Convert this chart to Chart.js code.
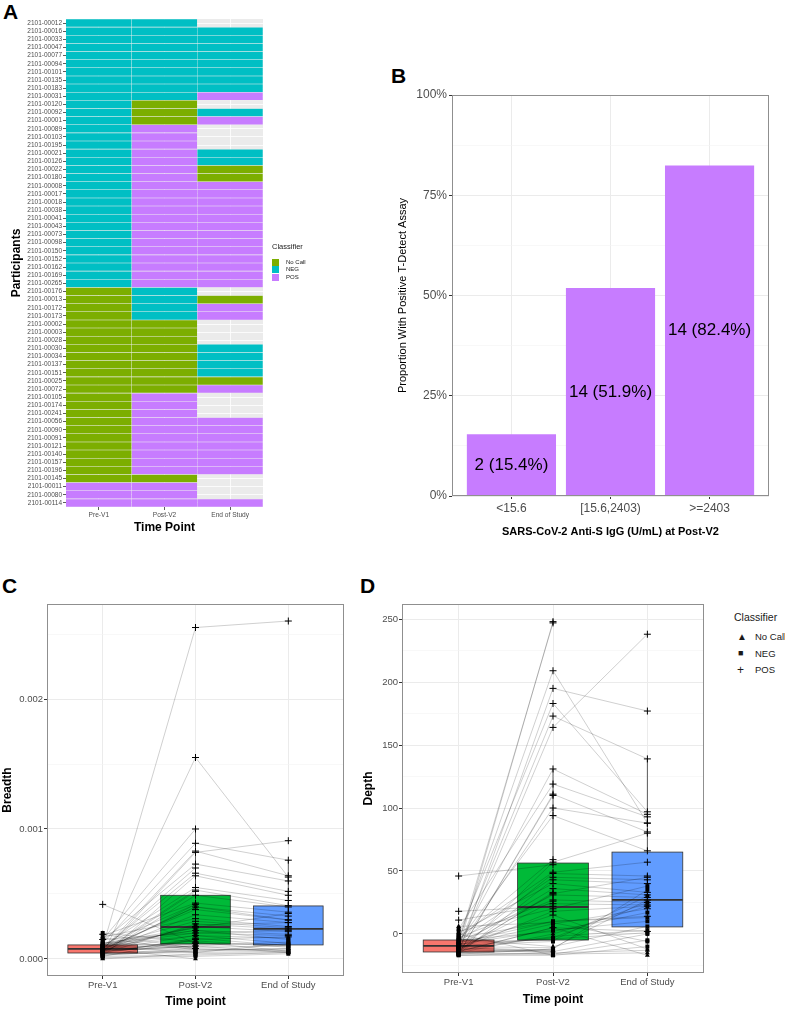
<!DOCTYPE html>
<html>
<head>
<meta charset="utf-8">
<script src="https://cdn.jsdelivr.net/npm/chart.js@4.4.1/dist/chart.umd.min.js"></script>
<style>
  body { margin:0; background:#fff; width:785px; height:1010px; position:relative; overflow:hidden; font-family:"Liberation Sans", Arial, sans-serif; }
  canvas { position:absolute; }
  .tag { position:absolute; font-weight:bold; font-size:21px; line-height:21px; }
  .leg { position:absolute; color:#1a1a1a; white-space:nowrap; }
  .key { position:absolute; width:7px; height:7px; }
</style>
</head>
<body>
<div class="tag" style="left:3px;top:1px">A</div>
<div class="tag" style="left:391px;top:65px">B</div>
<div class="tag" style="left:2px;top:575px">C</div>
<div class="tag" style="left:360px;top:575px">D</div>

<canvas id="chartA" width="370" height="540" style="left:0;top:0"></canvas>
<canvas id="chartB" width="400" height="465" style="left:385px;top:80px"></canvas>
<canvas id="chartC" width="350" height="420" style="left:0;top:590px"></canvas>
<canvas id="chartD" width="365" height="420" style="left:355px;top:590px"></canvas>

<!-- legend panel A -->
<div class="leg" style="left:272px;top:242px;font-size:7.5px">Classifier</div>
<div class="key" style="left:272px;top:259px;background:#7CAE00"></div>
<div class="leg" style="left:286px;top:259px;font-size:6px;line-height:7px">No Call</div>
<div class="key" style="left:272px;top:266px;background:#00BFC4"></div>
<div class="leg" style="left:286px;top:266px;font-size:6px;line-height:7px">NEG</div>
<div class="key" style="left:272px;top:274px;background:#C77CFF"></div>
<div class="leg" style="left:286px;top:274px;font-size:6px;line-height:7px">POS</div>

<!-- legend panel D -->
<div class="leg" style="left:734px;top:611px;font-size:10.5px">Classifier</div>
<div class="leg" style="left:737px;top:630px;font-size:10px;line-height:13px">&#9650;</div>
<div class="leg" style="left:755px;top:631px;font-size:9.5px;line-height:12px">No Call</div>
<div class="leg" style="left:738px;top:647px;font-size:9px;line-height:13px">&#9632;</div>
<div class="leg" style="left:755px;top:648px;font-size:9.5px;line-height:12px">NEG</div>
<div class="leg" style="left:737px;top:663px;font-size:12px;line-height:14px">+</div>
<div class="leg" style="left:755px;top:664px;font-size:9.5px;line-height:12px">POS</div>

<script>
const participants = ['2101-00012','2101-00016','2101-00033','2101-00047','2101-00077','2101-00094','2101-00101','2101-00135','2101-00183','2101-00031',
  '2101-00120','2101-00092','2101-00001','2101-00089','2101-00103','2101-00195','2101-00021','2101-00126','2101-00022','2101-00180',
  '2101-00008','2101-00017','2101-00018','2101-00038','2101-00041','2101-00043','2101-00073','2101-00098','2101-00150','2101-00152',
  '2101-00162','2101-00169','2101-00265','2101-00176','2101-00013','2101-00172','2101-00173','2101-00002','2101-00003','2101-00028',
  '2101-00030','2101-00034','2101-00137','2101-00151','2101-00025','2101-00072','2101-00105','2101-00174','2101-00241','2101-00056',
  '2101-00090','2101-00091','2101-00121','2101-00140','2101-00157','2101-00196','2101-00145','2101-00011','2101-00080','2101-00114'];
const timePoints = ['Pre-V1', 'Post-V2', 'End of Study'];

const N = 'NEG', C = 'No Call', P = 'POS', _ = null;
const classPre = [N,N,N,N,N,N,N,N,N,N, N,N,N,N,N,N,N,N,N,N, N,N,N,N,N,N,N,N,N,N, N,N,N,C,C,C,C,C,C,C, C,C,C,C,C,C,C,C,C,C, C,C,C,C,C,C,C,P,P,P];
const classPost = [N,N,N,N,N,N,N,N,N,N, C,C,C,P,P,P,P,P,P,P, P,P,P,P,P,P,P,P,P,P, P,P,P,N,N,N,N,C,C,C, C,C,C,C,C,C,P,P,P,P, P,P,P,P,P,P,C,P,P,P];
const classEnd = [_,N,N,N,N,N,N,N,N,P, _,N,P,_,_,_,N,N,C,C, P,P,P,P,P,P,P,P,P,P, P,P,P,_,C,P,P,_,_,_, N,N,N,N,C,P,_,_,_,P, P,P,P,P,P,P,_,_,_,P];

// panel B
const bCats = ['<15.6', '[15.6,2403)', '>=2403'];
const bPct = [15.4, 51.9, 82.4];
const bCount = [2, 14, 14];

// panel C - breadth
const breadthPre = [0.00007,0.00004,0.0001,0.00002,0.00008,0.00012,0.00005,0.00009,0.00001,0.00006,
  0.00011,0.00003,0.00007,0.00015,0.00008,0.00005,0.0001,0.00004,0.0002,0.00006,
  0.00009,0.00003,0.00012,0.00007,0.00005,0.00014,0.00008,0.00002,0.0001,0.00006,
  0.00004,0.00018,0.00007,0.00009,0,0.00011,0.00005,0.00008,0.00003,0.00013,
  0.00006,0.0001,0.00004,0.00007,0.00016,0.00009,0.00005,0.00012,0.00002,0.00008,
  0.00006,0.00017,0.0001,0.00004,0.00007,0.00011,0.00006,0.00042,0.00019,0.00015];
const breadthPost = [0.00008,0.00005,0.00012,0.00003,0.00009,0.00022,0.00006,0.0001,0.00002,0.00026,
  0.00042,0.00007,0.0004,0.001,0.0007,0.00052,0.00018,0.00016,0.00013,0.0001,
  0.00255,0.00155,0.00089,0.00083,0.00082,0.00073,0.00066,0.00064,0.00055,0.00053,
  0.00049,0.00043,0.0004,0.00011,0.00004,0.0002,0.00015,0,0.00006,0.00009,
  0.00014,0.00005,0.00008,0.00018,0.00007,0.00024,0.00042,0.00024,0.00015,0.00038,
  0.00034,0.00031,0.00029,0.00027,0.00025,0.00022,0.0001,0.00012,0.00008,0.0002];
const breadthEnd = [null,0.00006,0.00011,0.00005,0.0001,0.00015,0.00008,0.00013,0.00004,0.00028,
  null,0.00007,0.0003,null,null,null,0.00012,0.0001,0.00006,0.00005,
  0.0026,0.00063,0.00076,0.00064,0.00091,0.0006,0.00052,0.00049,0.00045,0.00041,
  0.0004,0.00036,0.00033,null,0.00005,0.00022,0.00017,null,null,null,
  0.00009,0.00012,0.00006,0.00016,0.00008,0.00035,null,null,null,0.0003,
  0.00028,0.00025,0.00024,0.00023,0.00021,0.00019,null,null,null,0.00018];
const breadthQ1 = [0.000046, 0.000115, 0.000108];
const breadthMed = [0.000077, 0.000246, 0.000231];
const breadthQ3 = [0.000108, 0.00049, 0.000408];
const breadthLo = [0, 0, 0.00004];
const breadthHi = [0.0002, 0.001, 0.00076];

// panel D - depth
const depthPre = [-12,-15,-8,-16,-10,-3,-14,-6,-17,-9,
  -13,-4,-15,-11,-7,-16,2,-12,-9,-14,
  -5,-15,-1,-10,-13,-8,4,-16,-11,-6,
  -15,-2,-12,-9,-17,-7,-14,0,-11,-16,
  -5,-13,-8,6,-15,-10,-4,-14,-12,-6,
  -16,1,-9,-13,-7,-3,-11,46,18,11];
const depthPost = [-15,-12,3,-16,-3,10,-14,-5,-17,8,
  -13,-10,0,248,247,110,20,18,15,5,
  209,195,183,173,164,131,119,111,100,94,
  57,49,48,-6,-15,10,5,-17,-14,-12,
  2,-2,-4,9,-16,-11,59,33,26,45,
  43,40,36,32,31,27,-13,55,22,24];
const depthEnd = [null,35,10,-5,25,13,0,30,-10,20,
  null,6,22,null,null,null,38,22,-12,-17,
  88,177,97,139,238,95,93,81,88,66,
  80,57,46,null,-13,14,2,null,null,null,
  17,3,1,-6,-15,27,null,null,null,43,
  40,33,31,45,29,25,null,null,null,23];
const depthQ1 = [-14.3, -4.8, 5.6];
const depthMed = [-9.5, 21.4, 27];
const depthQ3 = [-4.8, 56.3, 65];
const depthLo = [-17, -17, -17];
const depthHi = [6, 131, 139];

const classColors = { 'No Call': '#7CAE00', 'NEG': '#00BFC4', 'POS': '#C77CFF' };
const boxColors = ['#F8766D', '#00BA38', '#619CFF'];
const shapes = { 'No Call': 'triangle', 'NEG': 'rect', 'POS': 'cross' };

Chart.defaults.font.family = '"Liberation Sans", Arial, sans-serif';
Chart.defaults.color = '#4D4D4D';

const panelBg = {
  id: 'panelBg',
  beforeDraw(chart) {
    const a = chart.chartArea;
    chart.ctx.save();
    chart.ctx.fillStyle = '#EBEBEB';
    chart.ctx.fillRect(a.left, a.top, a.width, a.height);
    chart.ctx.restore();
  }
};

const frame = {
  id: 'frame',
  afterDatasetsDraw(chart) {
    const { ctx, chartArea: a } = chart;
    ctx.save();
    ctx.strokeStyle = '#8F8F8F';
    ctx.lineWidth = 1;
    ctx.strokeRect(a.left + 0.5, a.top + 0.5, a.width - 1, a.height - 1);
    ctx.restore();
  }
};

function boxes(q1, med, q3, lo, hi) {
  return {
    id: 'boxes',
    beforeDatasetsDraw(chart) {
      const { ctx, scales: { x, y } } = chart;
      ctx.save();
      q1.forEach((v, i) => {
        const xc = x.getPixelForValue(i);
        const xl = x.getPixelForValue(i - 0.375), xr = x.getPixelForValue(i + 0.375);
        const yt = y.getPixelForValue(q3[i]), yb = y.getPixelForValue(v);
        ctx.strokeStyle = '#333';
        ctx.lineWidth = 0.8;
        ctx.beginPath();
        ctx.moveTo(xc, y.getPixelForValue(hi[i])); ctx.lineTo(xc, yt);
        ctx.moveTo(xc, yb); ctx.lineTo(xc, y.getPixelForValue(lo[i]));
        ctx.stroke();
        ctx.fillStyle = boxColors[i];
        ctx.fillRect(xl, yt, xr - xl, yb - yt);
        ctx.strokeRect(xl, yt, xr - xl, yb - yt);
        ctx.lineWidth = 1.8;
        const ym = y.getPixelForValue(med[i]);
        ctx.beginPath(); ctx.moveTo(xl, ym); ctx.lineTo(xr, ym); ctx.stroke();
      });
      ctx.restore();
    }
  };
}

// panel A: heatmap
new Chart(document.getElementById('chartA'), {
  type: 'bar',
  data: {
    labels: participants,
    datasets: [classPre, classPost, classEnd].map((cls, k) => ({
      label: timePoints[k],
      data: cls.map(c => c ? 1 : null),
      backgroundColor: cls.map(c => c ? classColors[c] : 'rgba(0,0,0,0)'),
      borderColor: 'rgba(255,255,255,0.2)',
      borderWidth: 0.6,
      barPercentage: 1,
      categoryPercentage: 1
    }))
  },
  options: {
    indexAxis: 'y', responsive: false, animation: false, events: [],
    layout: { padding: { top: 19, right: 107, left: 0, bottom: 0 } },
    plugins: { legend: { display: false }, tooltip: { enabled: false } },
    scales: {
      x: {
        type: 'linear', stacked: true, min: 0, max: 3,
        afterBuildTicks: s => { s.ticks = [0.5, 1.5, 2.5].map(v => ({ value: v })); },
        ticks: { callback: (v, i) => timePoints[i], font: { size: 6.6 }, padding: 1, maxRotation: 0 },
        grid: { color: '#fff', lineWidth: 0.8, tickColor: '#333', tickLength: 3 },
        border: { display: false },
        title: { display: true, text: 'Time Point', color: '#000', font: { size: 12, weight: 'bold' }, padding: { top: 2, bottom: 5 } },
        afterFit: s => { s.height = 33; }
      },
      y: {
        stacked: true,
        ticks: { autoSkip: false, font: { size: 6.5 }, padding: 1 },
        grid: { offset: false, color: '#fff', lineWidth: 0.8, tickColor: '#333', tickLength: 3 },
        border: { display: false },
        title: { display: true, text: 'Participants', color: '#000', font: { size: 12, weight: 'bold' }, padding: { top: 9 } },
        afterFit: s => { s.width = 66; }
      }
    }
  },
  plugins: [panelBg]
});

// panel B
const barLabels = {
  id: 'barLabels',
  afterDatasetsDraw(chart) {
    const { ctx, scales: { y } } = chart;
    ctx.save();
    ctx.font = '17px "Liberation Sans", Arial, sans-serif';
    ctx.fillStyle = '#000';
    ctx.textAlign = 'center';
    ctx.textBaseline = 'middle';
    chart.getDatasetMeta(0).data.forEach((bar, i) => {
      ctx.fillText(bCount[i] + ' (' + bPct[i] + '%)', bar.x, y.getPixelForValue(bPct[i] / 2));
    });
    ctx.restore();
  }
};

const major25 = v => v % 25 === 0;
new Chart(document.getElementById('chartB'), {
  type: 'bar',
  data: {
    datasets: [{
      data: bPct.map((v, i) => ({ x: i, y: v })),
      backgroundColor: '#C77CFF',
      barPercentage: 0.9,
      categoryPercentage: 1
    }]
  },
  options: {
    responsive: false, animation: false, events: [],
    layout: { padding: { top: 15, right: 16, left: 0, bottom: 0 } },
    plugins: { legend: { display: false }, tooltip: { enabled: false } },
    scales: {
      x: {
        type: 'linear', min: -0.6, max: 2.6, offset: false,
        afterBuildTicks: s => { s.ticks = [0, 1, 2].map(v => ({ value: v })); },
        ticks: { callback: (v, i) => bCats[i], font: { size: 12 }, padding: 2, maxRotation: 0 },
        grid: { offset: false, color: '#EBEBEB', tickColor: '#333', tickLength: 3 },
        border: { display: false },
        title: { display: true, text: 'SARS-CoV-2 Anti-S IgG (U/mL) at Post-V2', color: '#000', font: { size: 11, weight: 'bold' }, padding: { bottom: 6 } },
        afterFit: s => { s.height = 49; }
      },
      y: {
        min: 0, max: 100,
        afterBuildTicks: s => { s.ticks = [0, 12.5, 25, 37.5, 50, 62.5, 75, 87.5, 100].map(v => ({ value: v })); },
        ticks: { callback: v => major25(v) ? v + '%' : '', font: { size: 12 }, padding: 2 },
        grid: {
          color: c => major25(c.tick.value) ? '#EBEBEB' : '#F4F4F4',
          lineWidth: c => major25(c.tick.value) ? 1 : 0.6,
          tickColor: c => major25(c.tick.value) ? '#333' : 'rgba(0,0,0,0)',
          tickLength: 3
        },
        border: { display: false },
        title: { display: true, text: 'Proportion With Positive T-Detect Assay', color: '#000', font: { size: 11 }, padding: { top: 11 } },
        afterFit: s => { s.width = 67; }
      }
    }
  },
  plugins: [barLabels, frame]
});

// panels C and D
function buildSeries(pre, post, end) {
  const pts = ['No Call', 'NEG', 'POS'].map(cls => {
    const d = [];
    [[pre, classPre], [post, classPost], [end, classEnd]].forEach(([vals, cl], k) => {
      vals.forEach((v, i) => { if (v !== null && cl[i] === cls) d.push({ x: k, y: v }); });
    });
    return {
      data: d, pointStyle: shapes[cls],
      pointRadius: cls === 'POS' ? 3.5 : 2.8,
      backgroundColor: '#000', borderColor: '#000',
      borderWidth: cls === 'POS' ? 1 : 0, order: 0
    };
  });
  const lines = participants.map((p, i) => ({
    label: p, showLine: true,
    data: [pre[i], post[i], end[i]].map((v, k) => v === null ? null : { x: k, y: v }).filter(Boolean),
    borderColor: 'rgba(0,0,0,0.24)', borderWidth: 0.8, pointRadius: 0, order: 2
  }));
  return pts.concat(lines);
}

function timeAxis(h) {
  return {
    type: 'linear', min: -0.6, max: 2.6,
    afterBuildTicks: s => { s.ticks = [0, 1, 2].map(v => ({ value: v })); },
    ticks: { callback: (v, i) => timePoints[i], font: { size: 9.5 }, padding: 1, maxRotation: 0 },
    grid: { color: '#EBEBEB', tickColor: '#333', tickLength: 3 },
    border: { display: false },
    title: { display: true, text: 'Time point', color: '#000', font: { size: 12, weight: 'bold' }, padding: { bottom: h === 34 ? 1 : 3 } },
    afterFit: s => { s.height = h; }
  };
}

const breadthMajor = v => Math.round(v * 10000) % 10 === 0;
new Chart(document.getElementById('chartC'), {
  type: 'scatter',
  data: { datasets: buildSeries(breadthPre, breadthPost, breadthEnd) },
  options: {
    responsive: false, animation: false, events: [],
    layout: { padding: { top: 14, right: 6, left: 0, bottom: 0 } },
    plugins: { legend: { display: false }, tooltip: { enabled: false } },
    scales: {
      x: timeAxis(34),
      y: {
        min: -0.000131, max: 0.002731,
        afterBuildTicks: s => { s.ticks = [0, 0.0005, 0.001, 0.0015, 0.002, 0.0025].map(v => ({ value: v })); },
        ticks: { callback: v => breadthMajor(v) ? v.toFixed(3) : '', font: { size: 9.5 }, padding: 1 },
        grid: {
          color: c => breadthMajor(c.tick.value) ? '#EBEBEB' : '#F4F4F4',
          lineWidth: c => breadthMajor(c.tick.value) ? 1 : 0.6,
          tickColor: c => breadthMajor(c.tick.value) ? '#333' : 'rgba(0,0,0,0)',
          tickLength: 3
        },
        border: { display: false },
        title: { display: true, text: 'Breadth', color: '#000', font: { size: 12, weight: 'bold' }, padding: { top: 0 } },
        afterFit: s => { s.width = 47; }
      }
    }
  },
  plugins: [boxes(breadthQ1, breadthMed, breadthQ3, breadthLo, breadthHi), frame]
});

const depthMajor = v => v % 50 === 0;
new Chart(document.getElementById('chartD'), {
  type: 'scatter',
  data: { datasets: buildSeries(depthPre, depthPost, depthEnd) },
  options: {
    responsive: false, animation: false, events: [],
    layout: { padding: { top: 14, right: 16, left: 0, bottom: 0 } },
    plugins: { legend: { display: false }, tooltip: { enabled: false } },
    scales: {
      x: timeAxis(37),
      y: {
        min: -31, max: 262,
        afterBuildTicks: s => { s.ticks = [-25, 0, 25, 50, 75, 100, 125, 150, 175, 200, 225, 250].map(v => ({ value: v })); },
        ticks: { callback: v => depthMajor(v) ? String(v) : '', font: { size: 9.5 }, padding: 1 },
        grid: {
          color: c => depthMajor(c.tick.value) ? '#EBEBEB' : '#F4F4F4',
          lineWidth: c => depthMajor(c.tick.value) ? 1 : 0.6,
          tickColor: c => depthMajor(c.tick.value) ? '#333' : 'rgba(0,0,0,0)',
          tickLength: 3
        },
        border: { display: false },
        title: { display: true, text: 'Depth', color: '#000', font: { size: 12, weight: 'bold' }, padding: { top: 6 } },
        afterFit: s => { s.width = 47; }
      }
    }
  },
  plugins: [boxes(depthQ1, depthMed, depthQ3, depthLo, depthHi), frame]
});
</script>
</body>
</html>
